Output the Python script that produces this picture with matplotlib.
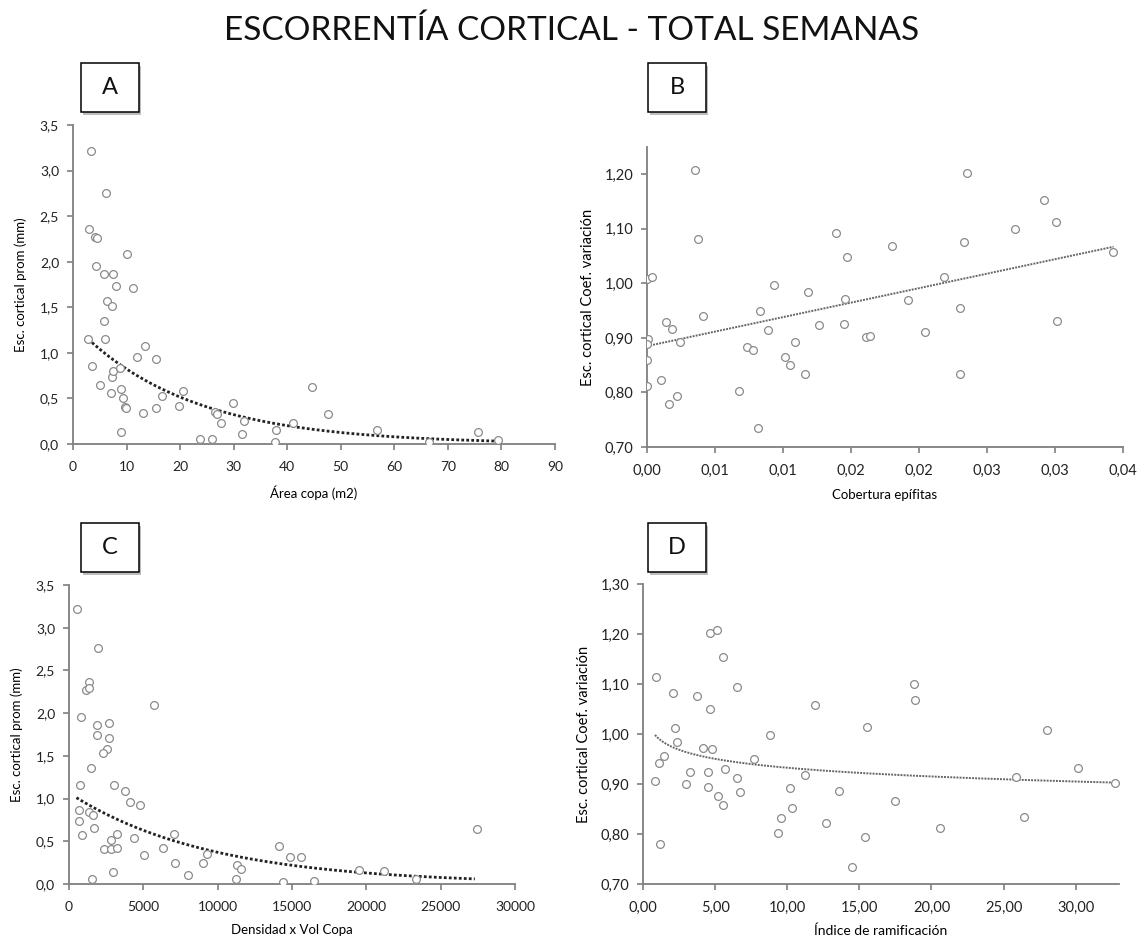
import matplotlib
matplotlib.use("Agg")
import matplotlib.pyplot as plt
import numpy as np
from matplotlib.patches import Rectangle

plt.rcParams['font.family'] = ['Lato', 'DejaVu Sans']

# ---------------- DATA ----------------
title = "ESCORRENTÍA CORTICAL - TOTAL SEMANAS"

# Panel A: Área copa (m2) vs Esc. cortical prom (mm)
area_copa = [2.86, 3.61, 5.05, 5.85, 5.98, 6.30, 7.23, 7.98, 11.16, 7.05, 7.23, 7.53,
             8.79, 8.92, 9.40, 9.78, 9.90, 8.97, 11.96, 13.40, 15.51, 13.03, 15.51, 16.58,
             19.87, 20.50, 23.74, 26.04, 26.54, 26.97, 27.61, 29.85, 31.53, 32.02, 3.31,
             6.17, 3.05, 4.11, 4.43, 10.04, 4.30, 5.74, 7.42, 37.76, 37.89, 41.07, 44.67,
             47.57, 56.79, 66.47, 75.57, 79.31]
esc_prom_A = [1.15, 0.86, 0.65, 1.35, 1.15, 1.57, 1.51, 1.73, 1.71, 0.56, 0.73, 0.80,
              0.83, 0.60, 0.50, 0.41, 0.40, 0.135, 0.96, 1.08, 0.93, 0.34, 0.40, 0.53,
              0.42, 0.58, 0.06, 0.06, 0.35, 0.33, 0.23, 0.45, 0.11, 0.25, 3.22,
              2.75, 2.36, 2.27, 2.26, 2.09, 1.95, 1.86, 1.87, 0.02, 0.15, 0.23, 0.63,
              0.33, 0.15, 0.02, 0.135, 0.04]
trend_A = dict(a=1.315, b=-0.0469, x0=2.86, x1=78.6)   # exponential y = a*exp(b*x)

# Panel B: Cobertura epífitas vs Esc. cortical Coef. variación
cobertura = [0.00355, 0.00372, 0.0, 0.00037, 0.0014, 0.00184, 0.0024, 0.0041, 0.00005,
             0.0, 0.0, 0.0, 0.00105, 0.00164, 0.00223, 0.00676, 0.00735, 0.0078, 0.00813,
             0.00833, 0.0089, 0.00936, 0.01015, 0.01049, 0.01086, 0.01164, 0.01186,
             0.01265, 0.0139, 0.0147, 0.01458, 0.01446, 0.0161, 0.0164, 0.01799, 0.01916,
             0.02041, 0.02181, 0.0235, 0.02333, 0.02304, 0.02304, 0.02703, 0.02919,
             0.03005, 0.03012, 0.03426]
coef_var_B = [1.207, 1.081, 1.008, 1.012, 0.930, 0.917, 0.893, 0.941, 0.898,
              0.889, 0.859, 0.811, 0.822, 0.779, 0.793, 0.803, 0.884, 0.877, 0.735,
              0.950, 0.914, 0.997, 0.865, 0.851, 0.893, 0.833, 0.984,
              0.923, 1.092, 1.049, 0.971, 0.925, 0.901, 0.904, 1.068, 0.970,
              0.911, 1.011, 1.202, 1.075, 0.955, 0.834, 1.100, 1.153,
              1.113, 0.931, 1.057]
trend_B = dict(a=0.885, b=5.31, x0=0.0, x1=0.0343)     # linear y = a + b*x
B_xtick_labels = ['0,00', '0,01', '0,01', '0,02', '0,02', '0,03', '0,03', '0,04']

# Panel C: Densidad x Vol Copa vs Esc. cortical prom (mm)
densidad_vol = [540, 1960, 1350, 1130, 1350, 840, 5740, 1850, 2680, 1890, 2700, 2530,
                2300, 1510, 770, 3020, 3760, 4100, 4780, 680, 1350, 1620, 680, 1670,
                860, 3240, 2800, 4370, 7030, 2370, 2800, 3240, 5050, 6310, 7140, 8000,
                8990, 9280, 2970, 1580, 11260, 11310, 11580, 14150, 14390, 14860,
                15590, 16490, 19530, 21220, 23310, 27460]
esc_prom_C = [3.22, 2.76, 2.36, 2.27, 2.29, 1.96, 2.10, 1.86, 1.88, 1.74, 1.71, 1.58,
              1.53, 1.36, 1.16, 1.16, 1.09, 0.96, 0.93, 0.87, 0.84, 0.81, 0.74, 0.66,
              0.57, 0.59, 0.52, 0.54, 0.58, 0.41, 0.41, 0.42, 0.34, 0.42, 0.24, 0.11,
              0.25, 0.35, 0.14, 0.06, 0.06, 0.22, 0.17, 0.45, 0.02, 0.32,
              0.32, 0.03, 0.16, 0.15, 0.06, 0.64]
trend_C = dict(a=1.065, b=-1.055e-4, x0=500, x1=27300)  # exponential

# Panel D: Índice de ramificación vs Esc. cortical Coef. variación
ramificacion = [0.89, 0.83, 1.10, 1.43, 1.20, 2.10, 2.21, 2.33, 3.00, 3.25, 3.76, 4.13,
                4.63, 5.12, 4.66, 4.80, 4.54, 4.54, 5.19, 5.58, 5.56, 5.70, 6.55, 6.55,
                6.74, 7.73, 8.77, 9.34, 9.58, 10.20, 10.31, 11.21, 11.91, 12.69, 13.61,
                14.49, 15.51, 15.39, 17.49, 18.76, 18.88, 20.61, 25.85, 26.43, 28.00,
                30.19, 32.73]
coef_var_D = [1.114, 0.906, 0.942, 0.956, 0.781, 1.083, 1.012, 0.984, 0.900, 0.925,
              1.077, 0.973, 1.202, 1.209, 1.050, 0.970, 0.924, 0.894, 0.876, 0.858,
              1.154, 0.930, 1.094, 0.912, 0.884, 0.951, 0.998, 0.802, 0.833, 0.893,
              0.853, 0.918, 1.058, 0.822, 0.887, 0.735, 1.014, 0.795, 0.866, 1.101,
              1.069, 0.812, 0.915, 0.834, 1.008, 0.932, 0.903]
trend_D = dict(a=0.993, b=-0.0273, x0=0.83, x1=32.7)    # power y = a*x**b

ytick_prom = [0.0, 0.5, 1.0, 1.5, 2.0, 2.5, 3.0, 3.5]
ytick_prom_labels = ['0,0', '0,5', '1,0', '1,5', '2,0', '2,5', '3,0', '3,5']
ytick_cv_B = [0.70, 0.80, 0.90, 1.00, 1.10, 1.20]
ytick_cv_D = [0.70, 0.80, 0.90, 1.00, 1.10, 1.20, 1.30]
xtick_A = [0, 10, 20, 30, 40, 50, 60, 70, 80, 90]
xtick_C = [0, 5000, 10000, 15000, 20000, 25000, 30000]
xtick_D = [0, 5, 10, 15, 20, 25, 30]

# ---------------- FIGURE ----------------
W, H = 1143, 949
fig = plt.figure(figsize=(W / 100, H / 100), dpi=100)
fig.patch.set_facecolor('white')

SPINE = '#7f7f7f'
MARK = '#8a8a8a'


def ax_at(l, t, r, b):
    return fig.add_axes([l / W, 1 - b / H, (r - l) / W, (b - t) / H])


def style(ax, fs):
    for s in ['top', 'right']:
        ax.spines[s].set_visible(False)
    for s in ['left', 'bottom']:
        ax.spines[s].set_color(SPINE)
        ax.spines[s].set_linewidth(1.3)
    ax.tick_params(direction='out', length=4, width=1.2, color=SPINE,
                   labelsize=fs, labelcolor='#222222', pad=6)
    ax.tick_params(axis='x', pad=8)
    ax.set_facecolor('white')


def scatter(ax, x, y):
    ax.plot(x, y, linestyle='none', marker='o', markersize=5.6,
            markerfacecolor='white', markeredgecolor=MARK, markeredgewidth=0.9,
            zorder=3)


def fmt(v, d):
    return f"{v:.{d}f}".replace('.', ',')


def letter_box(l, t, r, b, letter):
    fig.patches.append(Rectangle((l / W + 0.002, 1 - b / H - 0.003), (r - l) / W, (b - t) / H,
                                 transform=fig.transFigure, facecolor='#bdbdbd',
                                 edgecolor='none', zorder=1))
    fig.patches.append(Rectangle((l / W, 1 - b / H), (r - l) / W, (b - t) / H,
                                 transform=fig.transFigure, facecolor='white',
                                 edgecolor='black', linewidth=1.1, zorder=2))
    fig.text((l + r) / 2 / W, 1 - (t + b) / 2 / H, letter, ha='center', va='center',
             fontsize=17, color='#111111', zorder=3)


fig.text(0.5, 1 - 31 / H, title, ha='center', va='center', fontsize=24,
         color='#111111')

# ---- Panel A
axA = ax_at(73, 125, 555, 444)
style(axA, 10)
scatter(axA, area_copa, esc_prom_A)
xs = np.linspace(trend_A['x0'], trend_A['x1'], 200)
axA.plot(xs, trend_A['a'] * np.exp(trend_A['b'] * xs), color='#222222',
         linestyle=(0, (1, 0.8)), linewidth=2.0, zorder=2)
axA.set_xlim(0, 90)
axA.set_ylim(0, 3.5)
axA.set_xticks(xtick_A)
axA.set_xticklabels([str(v) for v in xtick_A])
axA.set_yticks(ytick_prom)
axA.set_yticklabels(ytick_prom_labels)
axA.set_xlabel('Área copa (m2)', fontsize=9.5, labelpad=9)
axA.set_ylabel('Esc. cortical prom (mm)', fontsize=9.5, labelpad=9)

# ---- Panel B
axB = ax_at(647, 147, 1123, 447)
style(axB, 10.5)
scatter(axB, cobertura, coef_var_B)
xs = np.linspace(trend_B['x0'], trend_B['x1'], 200)
axB.plot(xs, trend_B['a'] + trend_B['b'] * xs, color='#666666',
         linestyle=(0, (1, 0.6)), linewidth=1.4, zorder=2)
axB.set_xlim(0, 0.035)
axB.set_ylim(0.70, 1.25)
axB.set_xticks([i * 0.005 for i in range(len(B_xtick_labels))])
axB.set_xticklabels(B_xtick_labels)
axB.set_yticks(ytick_cv_B)
axB.set_yticklabels([fmt(v, 2) for v in ytick_cv_B])
axB.set_xlabel('Cobertura epífitas', fontsize=9.5, labelpad=8)
axB.set_ylabel('Esc. cortical Coef. variación', fontsize=10.5, labelpad=7)

# ---- Panel C
axC = ax_at(69, 585, 515, 884)
style(axC, 10)
scatter(axC, densidad_vol, esc_prom_C)
xs = np.linspace(trend_C['x0'], trend_C['x1'], 200)
axC.plot(xs, trend_C['a'] * np.exp(trend_C['b'] * xs), color='#222222',
         linestyle=(0, (1, 0.8)), linewidth=2.0, zorder=2)
axC.set_xlim(0, 30000)
axC.set_ylim(0, 3.5)
axC.set_xticks(xtick_C)
axC.set_xticklabels([str(v) for v in xtick_C])
axC.set_yticks(ytick_prom)
axC.set_yticklabels(ytick_prom_labels)
axC.set_xlabel('Densidad x Vol Copa', fontsize=9.5, labelpad=8)
axC.set_ylabel('Esc. cortical prom (mm)', fontsize=9.5, labelpad=9)

# ---- Panel D
axD = ax_at(643, 584, 1119, 884)
style(axD, 10.5)
scatter(axD, ramificacion, coef_var_D)
xs = np.linspace(trend_D['x0'], trend_D['x1'], 200)
axD.plot(xs, trend_D['a'] * xs ** trend_D['b'], color='#666666',
         linestyle=(0, (1, 0.6)), linewidth=1.4, zorder=2)
axD.set_xlim(0, 33)
axD.set_ylim(0.70, 1.30)
axD.set_xticks(xtick_D)
axD.set_xticklabels([fmt(v, 2) for v in xtick_D])
axD.set_yticks(ytick_cv_D)
axD.set_yticklabels([fmt(v, 2) for v in ytick_cv_D])
axD.set_xlabel('Índice de ramificación', fontsize=10, labelpad=7)
axD.set_ylabel('Esc. cortical Coef. variación', fontsize=10.5, labelpad=7)

# ---- Letter boxes
letter_box(81, 63, 139, 112, 'A')
letter_box(648, 63, 706, 112, 'B')
letter_box(81, 523, 139, 572, 'C')
letter_box(648, 523, 706, 572, 'D')

fig.savefig('out.png', dpi=100, facecolor='white')
